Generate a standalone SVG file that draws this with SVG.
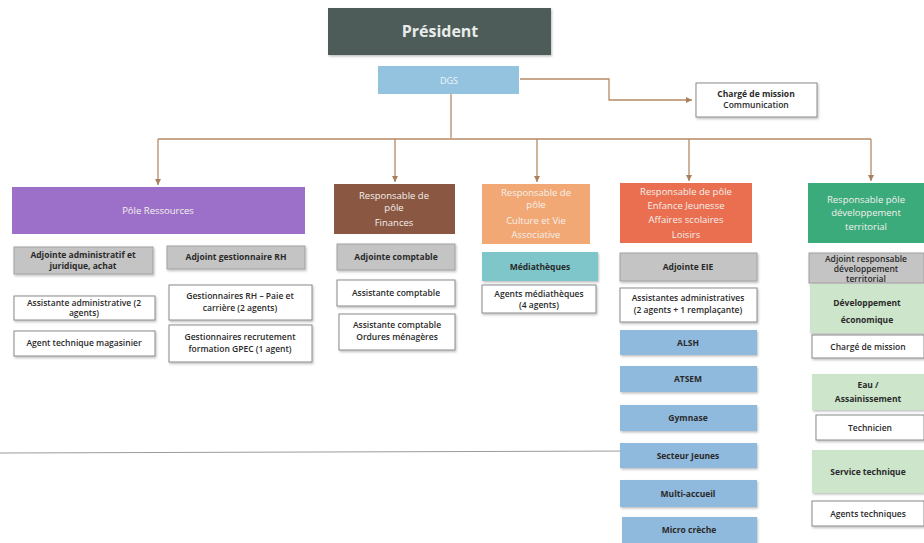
<svg xmlns="http://www.w3.org/2000/svg" width="924" height="543" viewBox="0 0 924 543">
<defs>
<marker id="arr" markerWidth="8" markerHeight="8" refX="6" refY="3" orient="auto" markerUnits="userSpaceOnUse">
<path d="M0,0 L6,3 L0,6 z" fill="#a8805e"/>
</marker>
<filter id="sh" x="-5%" y="-10%" width="115%" height="130%">
<feDropShadow dx="1" dy="1.5" stdDeviation="0.8" flood-color="#000" flood-opacity="0.25"/>
</filter>
</defs>
<style>
text{font-family:"Open Sans","Liberation Sans",sans-serif;text-anchor:middle;}
.t{font-size:8.5px;fill:#2a2a2a;font-weight:600;}
.b{font-weight:bold;}
.w{fill:#f4f0ec;font-size:9.5px;}
.gray{fill:#c4c4c4;stroke:#a0a0a0;stroke-width:1;filter:url(#sh);}
.white{fill:#ffffff;stroke:#8a8a8a;stroke-width:1;filter:url(#sh);}
.blue{fill:#8fb9dd;filter:url(#sh);}
.lg{fill:#cde6cb;filter:url(#sh);}
.con{fill:none;stroke:#b58a66;stroke-width:1.3;}
</style>
<rect width="924" height="543" fill="#ffffff"/>
<line x1="0" y1="453" x2="640" y2="451" stroke="#9a9a9a" stroke-width="1"/>

<g id="connectors">
<path class="con" d="M520,79 H609 V100 H692" marker-end="url(#arr)"/>
<path class="con" d="M451,94 V138"/>
<path class="con" d="M158,139 H871"/>
<path class="con" d="M158,139 V185" marker-end="url(#arr)"/>
<path class="con" d="M395,139 V182" marker-end="url(#arr)"/>
<path class="con" d="M537,139 V182" marker-end="url(#arr)"/>
<path class="con" d="M689,139 V181" marker-end="url(#arr)"/>
<path class="con" d="M871,139 V181" marker-end="url(#arr)"/>
</g>

<g id="president">
<rect x="328" y="8" width="223" height="47" fill="#4d5c58" filter="url(#sh)"/>
<text x="440" y="37" font-size="16" font-weight="bold" fill="#e8ecea">Président</text>
</g>
<g id="dgs">
<rect x="378" y="66" width="141" height="28" fill="#93c3de"/>
<text x="449" y="84" font-size="9" fill="#f0f6fa">DGS</text>
</g>
<g id="charge-communication">
<rect x="696" y="83" width="121" height="34" class="white"/>
<text class="t b" x="756" y="97">Chargé de mission</text>
<text class="t" x="756" y="108">Communication</text>
</g>

<g id="pole-ressources">
<rect x="12" y="187" width="293" height="47" fill="#9c70c8"/>
<text class="w" x="158" y="214">Pôle Ressources</text>
</g>
<g id="adjointe-admin">
<rect x="14" y="247" width="139" height="27" class="gray"/>
<text class="t b" x="83" y="258">Adjointe administratif et</text>
<text class="t b" x="83" y="269">juridique, achat</text>
</g>
<g id="adjoint-rh">
<rect x="167" y="246" width="138" height="23" class="gray"/>
<text class="t b" x="236" y="260">Adjoint gestionnaire RH</text>
</g>
<g id="assistante-admin">
<rect x="14" y="296" width="141" height="24" class="white"/>
<text class="t" x="84" y="306">Assistante administrative (2</text>
<text class="t" x="84" y="316">agents)</text>
</g>
<g id="agent-magasinier">
<rect x="14" y="331" width="141" height="25" class="white"/>
<text class="t" x="84" y="346">Agent technique magasinier</text>
</g>
<g id="gestionnaires-paie">
<rect x="169" y="285" width="143" height="35" class="white"/>
<text class="t" x="240" y="299">Gestionnaires RH – Paie et</text>
<text class="t" x="240" y="311">carrière (2 agents)</text>
</g>
<g id="gestionnaires-recrutement">
<rect x="169" y="325" width="143" height="37" class="white"/>
<text class="t" x="240" y="340">Gestionnaires recrutement</text>
<text class="t" x="240" y="352">formation GPEC (1 agent)</text>
</g>

<g id="pole-finances">
<rect x="334" y="184" width="121" height="50" fill="#8a5742"/>
<text class="w" x="394" y="199">Responsable  de</text>
<text class="w" x="394" y="211">pôle</text>
<text class="w" x="394" y="226">Finances</text>
</g>
<g id="adjointe-comptable">
<rect x="337" y="244" width="118" height="26" class="gray"/>
<text class="t b" x="396" y="260">Adjointe comptable</text>
</g>
<g id="assistante-comptable">
<rect x="337" y="280" width="118" height="26" class="white"/>
<text class="t" x="396" y="296">Assistante comptable</text>
</g>
<g id="assistante-om">
<rect x="339" y="314" width="116" height="36" class="white"/>
<text class="t" x="397" y="328">Assistante comptable</text>
<text class="t" x="397" y="340">Ordures ménagères</text>
</g>

<g id="pole-culture">
<rect x="482" y="184" width="108" height="60" fill="#f2a874"/>
<text class="w" x="536" y="196">Responsable de</text>
<text class="w" x="536" y="208">pôle</text>
<text class="w" x="536" y="224">Culture et Vie</text>
<text class="w" x="536" y="238">Associative</text>
</g>
<g id="mediatheques">
<rect x="482" y="252" width="116" height="29" fill="#7ec6c9" filter="url(#sh)"/>
<text class="t b" x="540" y="270" font-size="9.5">Médiathèques</text>
</g>
<g id="agents-mediatheques">
<rect x="482" y="285" width="114" height="28" class="white"/>
<text class="t" x="539" y="297">Agents médiathèques</text>
<text class="t" x="539" y="308">(4 agents)</text>
</g>

<g id="pole-enfance">
<rect x="620" y="183" width="132" height="60" fill="#e96f50"/>
<text class="w" x="686" y="195">Responsable de pôle</text>
<text class="w" x="686" y="209">Enfance Jeunesse</text>
<text class="w" x="686" y="223">Affaires scolaires</text>
<text class="w" x="686" y="238">Loisirs</text>
</g>
<g id="adjointe-eie">
<rect x="620" y="253" width="137" height="28" class="gray"/>
<text class="t b" x="688" y="270">Adjointe EIE</text>
</g>
<g id="assistantes-admin-eie">
<rect x="620" y="288" width="137" height="34" class="white"/>
<text class="t" x="688" y="301">Assistantes administratives</text>
<text class="t" x="688" y="313">(2 agents + 1 remplaçante)</text>
</g>
<g id="alsh"><rect x="620" y="330" width="137" height="25" class="blue"/><text class="t b" x="688" y="346" font-size="9.5">ALSH</text></g>
<g id="atsem"><rect x="620" y="366" width="137" height="26" class="blue"/><text class="t b" x="688" y="382" font-size="9.5">ATSEM</text></g>
<g id="gymnase"><rect x="620" y="405" width="137" height="26" class="blue"/><text class="t b" x="688" y="421" font-size="9.5">Gymnase</text></g>
<g id="secteur-jeunes"><rect x="620" y="443" width="137" height="25" class="blue"/><text class="t b" x="688" y="459" font-size="9.5">Secteur Jeunes</text></g>
<g id="multi-accueil"><rect x="620" y="480" width="137" height="27" class="blue"/><text class="t b" x="688" y="497" font-size="9.5">Multi-accueil</text></g>
<g id="micro-creche"><rect x="622" y="517" width="135" height="26" class="blue"/><text class="t b" x="689" y="533" font-size="9.5">Micro crèche</text></g>

<g id="pole-developpement">
<rect x="808" y="183" width="116" height="60" fill="#3bab7c"/>
<text class="w" x="866" y="203">Responsable pôle</text>
<text class="w" x="866" y="216">développement</text>
<text class="w" x="866" y="230">territorial</text>
</g>
<g id="adjoint-dev">
<rect x="809" y="253" width="115" height="30" class="gray"/>
<text class="t" x="866" y="262" fill="#555">Adjoint responsable</text>
<text class="t" x="866" y="272" fill="#555">développement</text>
<text class="t" x="866" y="282" fill="#555">territorial</text>
</g>
<g id="dev-economique">
<rect x="810" y="284" width="114" height="49" class="lg"/>
<text class="t b" x="867" y="306" font-size="10">Développement</text>
<text class="t b" x="867" y="323" font-size="10">économique</text>
</g>
<g id="charge-mission-dev">
<rect x="812" y="335" width="112" height="23" class="white"/>
<text class="t" x="868" y="350">Chargé de mission</text>
</g>
<g id="eau">
<rect x="812" y="374" width="112" height="36" class="lg"/>
<text class="t b" x="868" y="388" font-size="9.5">Eau /</text>
<text class="t b" x="868" y="402" font-size="9.5">Assainissement</text>
</g>
<g id="technicien">
<rect x="816" y="415" width="108" height="25" class="white"/>
<text class="t" x="870" y="431">Technicien</text>
</g>
<g id="service-technique">
<rect x="812" y="450" width="112" height="43" class="lg"/>
<text class="t b" x="868" y="475" font-size="9.5">Service technique</text>
</g>
<g id="agents-techniques">
<rect x="812" y="501" width="112" height="25" class="white"/>
<text class="t" x="868" y="517">Agents techniques</text>
</g>
</svg>
